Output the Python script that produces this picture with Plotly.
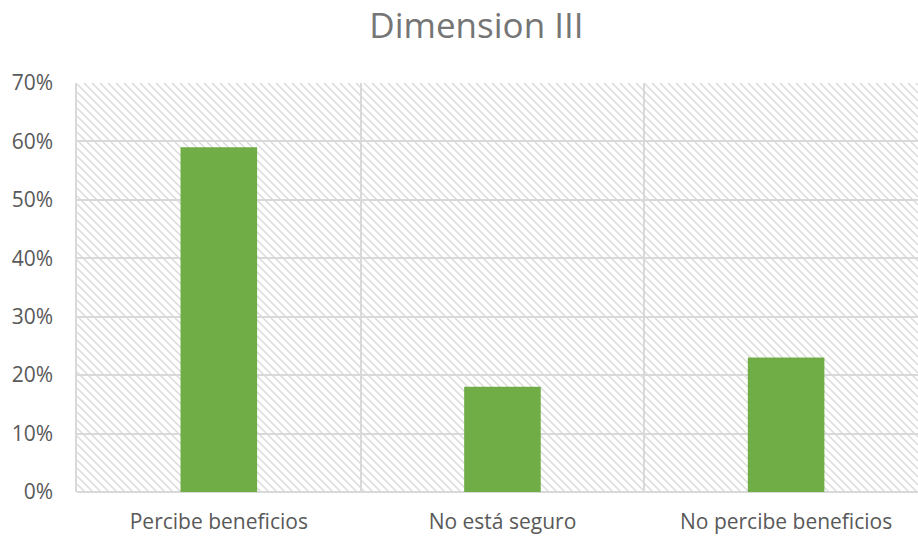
import plotly.graph_objects as go

categories = ["Percibe beneficios", "No está seguro", "No percibe beneficios"]
values = [0.59, 0.18, 0.23]
y_ticks = [0, 0.1, 0.2, 0.3, 0.4, 0.5, 0.6, 0.7]
y_max = 0.7

GRID = "#d9d9d9"
TEXT = "#595959"
FONT = "Open Sans"

W, H = 918, 539
M_L, M_R, M_T, M_B = 77, 0, 83, 47
PLOT_W = W - M_L - M_R
PLOT_H = H - M_T - M_B

fig = go.Figure()

fig.add_trace(go.Bar(
    x=categories,
    y=values,
    width=0.27,
    marker=dict(color="#70ad47", line=dict(width=0)),
    showlegend=False,
))

# diagonal hatching behind the gridlines, clipped to the plot area
HATCH_STEP = 8
shapes = []
c = -PLOT_H
while c < PLOT_W:
    y0 = max(0, -c)
    y1 = min(PLOT_H, PLOT_W - c)
    if y1 > y0:
        shapes.append(dict(
            type="line", layer="below",
            xref="x domain", yref="y domain",
            x0=(y0 + c) / PLOT_W, y0=1 - y0 / PLOT_H,
            x1=(y1 + c) / PLOT_W, y1=1 - y1 / PLOT_H,
            line=dict(color="#dadada", width=1.4),
        ))
    c += HATCH_STEP

fig.update_layout(
    width=W,
    height=H,
    margin=dict(l=M_L, r=M_R, t=M_T, b=M_B),
    paper_bgcolor="white",
    plot_bgcolor="white",
    shapes=shapes,
    title=dict(
        text="Dimension III",
        x=0.519, xanchor="center",
        y=0.952, yanchor="middle",
        font=dict(family=FONT, size=35, color="#757575"),
    ),
    font=dict(family=FONT, color=TEXT),
)

fig.update_xaxes(
    type="category",
    range=[-0.5, 2.465],
    tickson="boundaries",
    ticks="",
    showgrid=True,
    gridcolor=GRID,
    gridwidth=1.5,
    showline=False,
    tickfont=dict(family=FONT, size=21, color=TEXT),
    ticklabelstandoff=15,
)

fig.update_yaxes(
    range=[0, y_max],
    tickvals=y_ticks,
    tickformat=".0%",
    showgrid=True,
    gridcolor=GRID,
    gridwidth=1.5,
    zeroline=True,
    zerolinecolor=GRID,
    zerolinewidth=1.5,
    showline=True,
    linecolor=GRID,
    linewidth=1.5,
    ticks="",
    tickfont=dict(family=FONT, size=21, color=TEXT),
    ticklabelstandoff=18,
)

fig.write_html("out.html")
